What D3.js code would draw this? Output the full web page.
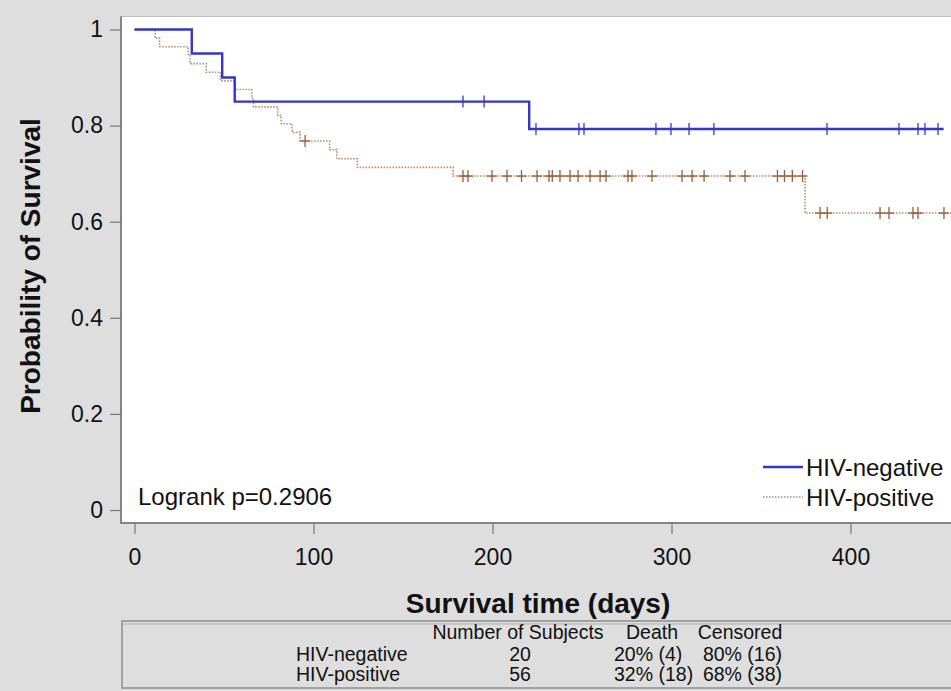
<!DOCTYPE html>
<html>
<head>
<meta charset="utf-8">
<script src="https://cdn.jsdelivr.net/npm/d3@7"></script>
<style>
  html, body { margin: 0; padding: 0; background: #dedede; overflow: hidden; }
  svg { display: block; font-family: "Liberation Sans", Arial, sans-serif; }
</style>
</head>
<body>
<svg id="chart" width="951" height="691"></svg>
<script>
// HIV-negative Kaplan-Meier steps (time in days, survival)
const negTimes = [0, 32, 49, 56, 220.5];
const negSurv = [1, 0.95, 0.90, 0.85, 0.793];
const negEnd = 452;
const negCensor = [183.5, 195.3, 224.3, 248.3, 251.1, 291.3, 299.7, 309.8, 323.7,
    386.9, 427.1, 437.7, 441.6, 448.9];

// HIV-positive Kaplan-Meier steps
const posTimes = [0, 11.5, 14, 30, 31, 40, 48, 56, 65.5, 66.5, 80, 82, 88, 92.5,
    109, 113, 124.5, 178, 374.6];
const posSurv = [1, 0.982, 0.964, 0.946, 0.929, 0.911, 0.893, 0.875, 0.857, 0.839,
    0.821, 0.804, 0.786, 0.768, 0.750, 0.731, 0.713, 0.695, 0.618];
const posEnd = 470;
const posCensor = [95.3, 183.5, 186.3, 199.7, 208.1, 216.2, 224.9, 231.6, 233.4, 237.7,
    243.3, 247.8, 254.5, 260.1, 263.4, 275.7, 277.9, 289.1, 305.9, 311.5, 318.2,
    332.7, 341.1, 359.2, 363.1, 367.5, 373.2, 383, 387, 416.5, 421.5, 434.9,
    437.7, 452.2];

const xTicks = [0, 100, 200, 300, 400];
const yTicks = [0, 0.2, 0.4, 0.6, 0.8, 1];

const groups = ['HIV-negative', 'HIV-positive'];
const tableHeaders = ['Number of Subjects', 'Death', 'Censored'];
const tableN = ['20', '56'];
const tableDeath = ['20% (4)', '32% (18)'];
const tableCensored = ['80% (16)', '68% (38)'];
const logrankText = 'Logrank p=0.2906';

const svg = d3.select('#chart');
const box = {left: 121, top: 16.5, right: 1000, bottom: 523};

const x = d3.scaleLinear().domain([0, 400]).range([134.5, 850.5]);
const y = d3.scaleLinear().domain([0, 1]).range([510, 29.5]);

const negColor = '#3535c8';
const posColor = '#b48a72';
const posMark = '#9a5a34';

// plot box
svg.append('rect')
    .attr('x', box.left)
    .attr('y', box.top)
    .attr('width', box.right - box.left)
    .attr('height', box.bottom - box.top)
    .attr('fill', '#ffffff')
    .attr('stroke', '#bcbcbc')
    .attr('stroke-width', 1);
svg.append('path')
    .attr('d', `M${box.left},${box.top}V${box.bottom}H${box.right}`)
    .attr('fill', 'none')
    .attr('stroke', '#858585')
    .attr('stroke-width', 2);

// axes
const yAxis = svg.append('g')
    .attr('transform', `translate(${box.left},0)`)
    .call(d3.axisLeft(y)
        .tickValues(yTicks)
        .tickSize(11)
        .tickPadding(7)
        .tickFormat((d) => (d === 0 || d === 1) ? String(d) : d3.format('.1f')(d)));
const xAxis = svg.append('g')
    .attr('transform', `translate(0,${box.bottom})`)
    .call(d3.axisBottom(x)
        .tickValues(xTicks)
        .tickSize(11)
        .tickPadding(15)
        .tickFormat(d3.format('d')));
[yAxis, xAxis].forEach((g) => {
    g.select('.domain').remove();
    g.selectAll('.tick line').attr('stroke', '#777777').attr('stroke-width', 1.2);
    g.selectAll('.tick text')
        .attr('fill', '#111111')
        .attr('font-size', 23)
        .attr('font-family', '"Liberation Sans", Arial, sans-serif');
});

// axis titles
svg.append('text')
    .attr('transform', 'translate(40,266) rotate(-90)')
    .attr('text-anchor', 'middle')
    .attr('font-size', 28)
    .attr('font-weight', 'bold')
    .attr('fill', '#111111')
    .text('Probability of Survival');
svg.append('text')
    .attr('x', 538)
    .attr('y', 613)
    .attr('text-anchor', 'middle')
    .attr('font-size', 28)
    .attr('font-weight', 'bold')
    .attr('fill', '#111111')
    .text('Survival time (days)');

// curves
const plot = svg.append('g');
const stepLine = d3.line()
    .x((d) => x(d[0]))
    .y((d) => y(d[1]))
    .curve(d3.curveStepAfter);
const toPoints = (times, surv, end) => times.map((t, i) => [t, surv[i]])
    .concat([[end, surv[surv.length - 1]]]);
const survAt = (times, surv, t) => surv[d3.bisectRight(times, t) - 1];

plot.append('path')
    .datum(toPoints(posTimes, posSurv, posEnd))
    .attr('d', stepLine)
    .attr('fill', 'none')
    .attr('stroke', posColor)
    .attr('stroke-width', 1.6)
    .attr('stroke-dasharray', '1.5,1.5');
plot.append('path')
    .datum(toPoints(negTimes, negSurv, negEnd))
    .attr('d', stepLine)
    .attr('fill', 'none')
    .attr('stroke', negColor)
    .attr('stroke-width', 2.4);

// censor marks
plot.selectAll('.neg-censor')
    .data(negCensor)
    .enter()
    .append('line')
    .attr('class', 'neg-censor')
    .attr('x1', (d) => x(d))
    .attr('x2', (d) => x(d))
    .attr('y1', (d) => y(survAt(negTimes, negSurv, d)) - 6)
    .attr('y2', (d) => y(survAt(negTimes, negSurv, d)) + 6)
    .attr('stroke', negColor)
    .attr('stroke-width', 1.3);
const posMarks = plot.selectAll('.pos-censor')
    .data(posCensor)
    .enter()
    .append('g')
    .attr('class', 'pos-censor')
    .attr('transform', (d) => `translate(${x(d)},${y(survAt(posTimes, posSurv, d))})`);
posMarks.append('line')
    .attr('x1', 0).attr('x2', 0).attr('y1', -6).attr('y2', 6)
    .attr('stroke', posMark).attr('stroke-width', 1.3);
posMarks.append('line')
    .attr('x1', -5).attr('x2', 5).attr('y1', 0).attr('y2', 0)
    .attr('stroke', posMark).attr('stroke-width', 1.3);

// logrank
svg.append('text')
    .attr('x', 138)
    .attr('y', 505)
    .attr('font-size', 24)
    .attr('fill', '#111111')
    .text(logrankText);

// legend
const legend = svg.append('g');
const legendRows = legend.selectAll('g')
    .data(groups)
    .enter()
    .append('g')
    .attr('transform', (d, i) => `translate(763,${467 + i * 30})`);
legendRows.append('line')
    .attr('x1', 0).attr('x2', 40).attr('y1', 0).attr('y2', 0)
    .attr('stroke', (d, i) => i === 0 ? negColor : posColor)
    .attr('stroke-width', (d, i) => i === 0 ? 2.4 : 1.6)
    .attr('stroke-dasharray', (d, i) => i === 0 ? null : '1.5,1.5');
legendRows.append('text')
    .attr('x', 43)
    .attr('y', 9)
    .attr('font-size', 24)
    .attr('fill', '#111111')
    .text((d) => d);

// summary table
const table = svg.append('g');
table.append('rect')
    .attr('x', 122)
    .attr('y', 621)
    .attr('width', 900)
    .attr('height', 67)
    .attr('fill', 'none')
    .attr('stroke', '#8c8c8c')
    .attr('stroke-width', 1.5);
table.append('line')
    .attr('x1', 122).attr('x2', 1022).attr('y1', 624).attr('y2', 624)
    .attr('stroke', '#b0b0b0').attr('stroke-width', 1);

const headerX = [518, 652, 740];
table.selectAll('.th')
    .data(tableHeaders)
    .enter()
    .append('text')
    .attr('class', 'th')
    .attr('x', (d, i) => headerX[i])
    .attr('y', 639)
    .attr('text-anchor', 'middle')
    .attr('font-size', 19.5)
    .attr('fill', '#111111')
    .text((d) => d);

const rowY = [661, 681];
groups.forEach((g, i) => {
    const cells = [
        {text: g, x: 296, anchor: 'start'},
        {text: tableN[i], x: 520, anchor: 'middle'},
        {text: tableDeath[i], x: 614, anchor: 'start'},
        {text: tableCensored[i], x: 782, anchor: 'end'}
    ];
    table.selectAll(null)
        .data(cells)
        .enter()
        .append('text')
        .attr('x', (d) => d.x)
        .attr('y', rowY[i])
        .attr('text-anchor', (d) => d.anchor)
        .attr('font-size', 19.5)
        .attr('fill', '#111111')
        .text((d) => d.text);
});
</script>
</body>
</html>
